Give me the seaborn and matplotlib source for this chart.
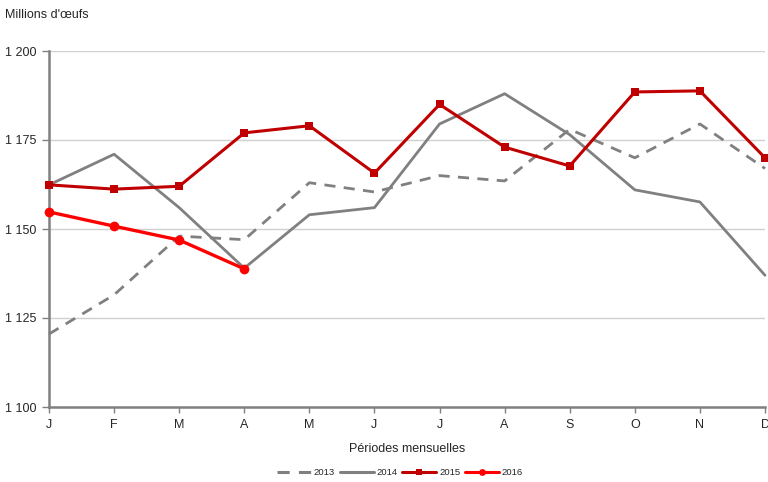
import matplotlib
matplotlib.use("Agg")
import matplotlib.pyplot as plt
import seaborn as sns
import pandas as pd
import numpy as np

months = ["J", "F", "M", "A", "M", "J", "J", "A", "S", "O", "N", "D"]
y2013 = [1120.5, 1131.5, 1148, 1147, 1163, 1160.4, 1165, 1163.5, 1178, 1170, 1179.5, 1167]
y2014 = [1162.4, 1171, 1156, 1139, 1154, 1156, 1179.5, 1188, 1176.5, 1161, 1157.6, 1137]
y2015 = [1162.4, 1161.2, 1162, 1177, 1179, 1165.7, 1185, 1173, 1167.7, 1188.5, 1188.8, 1170]
y2016 = [1154.8, 1150.8, 1146.9, 1138.8]
yticks = [1100, 1125, 1150, 1175, 1200]

sns.set_theme(style="white")
plt.rcParams['font.family'] = ['Liberation Sans', 'DejaVu Sans']

fig = plt.figure(figsize=(7.68, 4.82), dpi=100)
ax = fig.add_axes([49/768, 1-407/482, (765-49)/768, (407-51)/482])

gray = "#808080"
series = [
    ("2013", y2013, dict(color=gray, linestyle=(0, (4, 3)), lw=2.0, marker=None)),
    ("2014", y2014, dict(color=gray, linestyle="-", lw=2.0, marker=None)),
    ("2015", y2015, dict(color="#C00000", linestyle="-", lw=2.2, marker="s", markersize=6)),
    ("2016", y2016, dict(color="#FF0000", linestyle="-", lw=2.4, marker="o", markersize=7)),
]
for name, vals, kw in series:
    df = pd.DataFrame({"x": np.arange(len(vals)), "v": vals})
    sns.lineplot(data=df, x="x", y="v", ax=ax, label=name, markeredgewidth=0,
                 clip_on=False, zorder=3, **kw)

ax.set_xlim(0, 11)
ax.set_ylim(1100, 1200)
ax.set_yticks(yticks)
ax.set_yticklabels([f"{t:,}".replace(",", " ") for t in yticks], fontsize=9)
ax.set_xticks(range(12))
ax.set_xticklabels(months, fontsize=9)
ax.yaxis.grid(True, color="#d0d0d0", lw=1)
ax.set_axisbelow(True)
for s in ["top", "right"]:
    ax.spines[s].set_visible(False)
for s in ["left", "bottom"]:
    ax.spines[s].set_color(gray)
    ax.spines[s].set_linewidth(1.8)
ax.tick_params(axis="y", direction="out", length=5, color=gray, width=1, left=True, pad=4)
ax.tick_params(axis="x", direction="out", length=4, color=gray, width=1, bottom=True, pad=5)
ax.set_xlabel("Périodes mensuelles", fontsize=9, labelpad=8)
ax.set_ylabel("")
fig.text(5/768, 1-15/482, "Millions d'œufs", fontsize=9, va="center", ha="left")

leg = ax.legend(loc="center", bbox_to_anchor=((400-49)/716, -0.185), ncol=4, frameon=False,
                fontsize=6.8, handlelength=3.6, columnspacing=0.5, handletextpad=0.3, markerscale=0.7)
for l in leg.get_lines():
    l.set_linewidth(2.2)

fig.savefig("out.png", dpi=100)
